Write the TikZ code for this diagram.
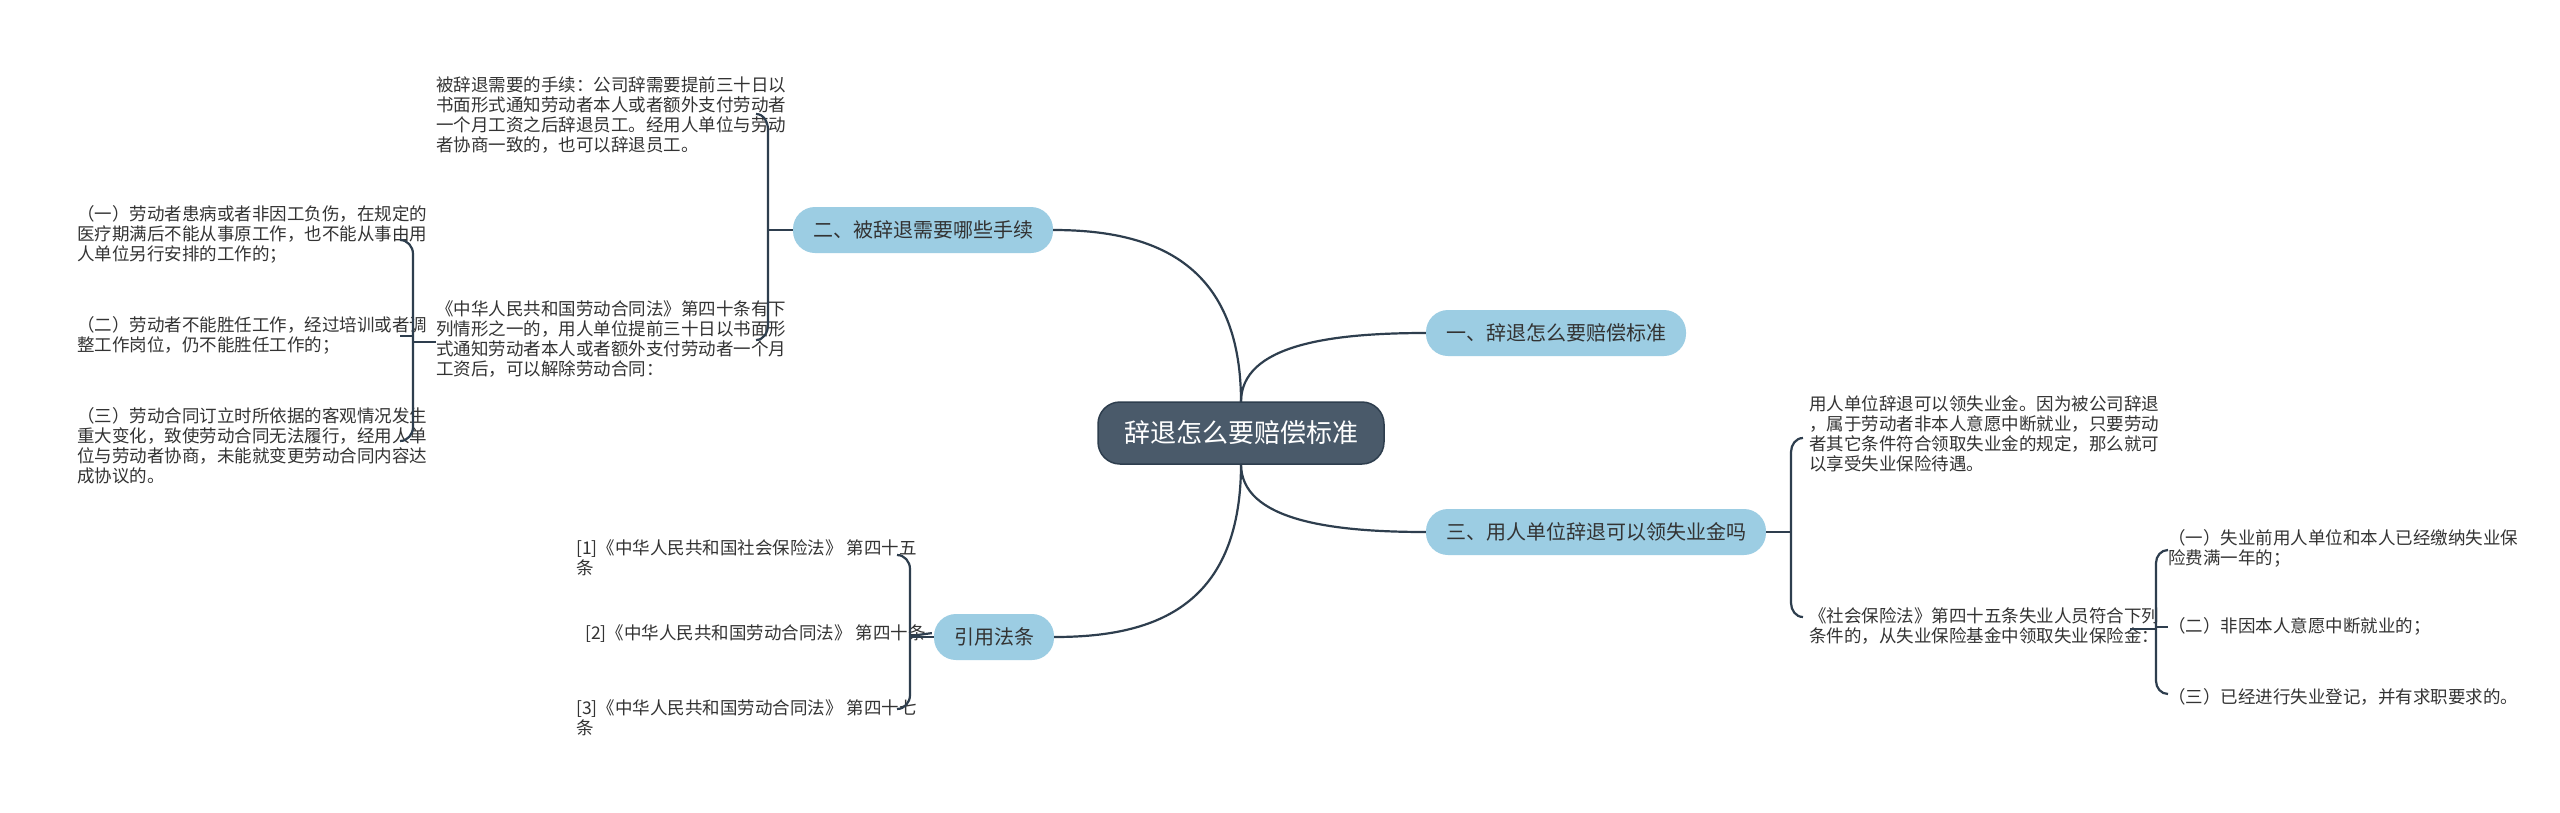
\documentclass[tikz,border=0pt]{standalone}
\usepackage{fontspec}
\setmainfont{Noto Sans CJK SC}
\definecolor{lnc}{HTML}{2E3E4E}
\definecolor{ctrf}{HTML}{4A5A6A}
\definecolor{brf}{HTML}{9CCDE3}
\definecolor{txc}{HTML}{333333}
\tikzset{
 ctr/.style={draw=lnc,line width=1.5pt,fill=ctrf,rounded corners=22pt,text=white,font=\fontsize{26}{30}\selectfont,minimum height=62pt,inner xsep=26pt},
 br/.style={fill=brf,rounded corners=22pt,text=txc,font=\fontsize{20}{24}\selectfont,minimum height=46pt,inner xsep=20pt},
 leaf/.style={text=txc,font=\fontsize{17.5}{20}\selectfont,align=left,inner sep=0pt},
 ln/.style={draw=lnc,line width=2.2pt},
}
\begin{document}
\begin{tikzpicture}[x=1pt,y=-1pt]
\useasboundingbox (0,0) rectangle (2560,812);
\fill[white] (0,0) rectangle (2560,812);
\node[ctr] (c) at (1241,433) {辞退怎么要赔偿标准};
\node[br] (b2) at (923,230) {二、被辞退需要哪些手续};
\node[br] (b1) at (1556,333) {一、辞退怎么要赔偿标准};
\node[br] (b3) at (1596,532) {三、用人单位辞退可以领失业金吗};
\node[br] (b4) at (994,637) {引用法条};
\coordinate (ct) at (1241,402);
\coordinate (cb) at (1241,464);
\draw[ln] (ct) .. controls (1241,260) and (1150,230) .. (b2.east);
\draw[ln] (ct) .. controls (1241,345) and (1330,333) .. (b1.west);
\draw[ln] (cb) .. controls (1241,520) and (1330,532) .. (b3.west);
\draw[ln] (cb) .. controls (1241,610) and (1150,637) .. (b4.east);

% branch 2 leaves
\node[leaf,anchor=north west] (l21) at (436,77) {被辞退需要的手续：公司辞需要提前三十日以\\书面形式通知劳动者本人或者额外支付劳动者\\一个月工资之后辞退员工。经用人单位与劳动\\者协商一致的，也可以辞退员工。};
\node[leaf,anchor=north west] (l22) at (436,300) {《中华人民共和国劳动合同法》第四十条有下\\列情形之一的，用人单位提前三十日以书面形\\式通知劳动者本人或者额外支付劳动者一个月\\工资后，可以解除劳动合同：};
\draw[ln] (b2.west) -- (768,230);
\draw[ln] (756,114) to[out=0,in=90] (768,130) -- (768,325) to[out=-90,in=0] (756,340);
\node[leaf,anchor=north west] (i1) at (77,205) {（一）劳动者患病或者非因工负伤，在规定的\\医疗期满后不能从事原工作，也不能从事由用\\人单位另行安排的工作的；};
\node[leaf,anchor=north west] (i2) at (77,316) {（二）劳动者不能胜任工作，经过培训或者调\\整工作岗位，仍不能胜任工作的；};
\node[leaf,anchor=north west] (i3) at (77,407) {（三）劳动合同订立时所依据的客观情况发生\\重大变化，致使劳动合同无法履行，经用人单\\位与劳动者协商，未能就变更劳动合同内容达\\成协议的。};
\coordinate (j22) at (436,342);
\draw[ln] (j22) -- (413,342);
\draw[ln] (400,240) to[out=0,in=90] (413,254) -- (413,427) to[out=-90,in=0] (400,441);
\draw[ln] (400,336) -- (413,336);

% branch 3 leaves
\node[leaf,anchor=north west] (l31) at (1809,395) {用人单位辞退可以领失业金。因为被公司辞退\\，属于劳动者非本人意愿中断就业，只要劳动\\者其它条件符合领取失业金的规定，那么就可\\以享受失业保险待遇。};
\node[leaf,anchor=north west] (l32) at (1809,607) {《社会保险法》第四十五条失业人员符合下列\\条件的，从失业保险基金中领取失业保险金：};
\draw[ln] (b3.east) -- (1791,532);
\draw[ln] (1803,438) to[out=180,in=90] (1791,452) -- (1791,603) to[out=-90,in=180] (1803,617);
\node[leaf,anchor=north west] (k1) at (2168,529) {（一）失业前用人单位和本人已经缴纳失业保\\险费满一年的；};
\node[leaf,anchor=north west] (k2) at (2168,617) {（二）非因本人意愿中断就业的；};
\node[leaf,anchor=north west] (k3) at (2168,688) {（三）已经进行失业登记，并有求职要求的。};
\draw[ln] (2130,629) -- (2156,629);
\draw[ln] (2168,550) to[out=180,in=90] (2156,563) -- (2156,681) to[out=-90,in=180] (2168,694);
\draw[ln] (2156,627) -- (2168,627);

% citations
\node[leaf,anchor=north west] (r1) at (576,539) {[1]《中华人民共和国社会保险法》 第四十五\\条};
\node[leaf,anchor=north west] (r2) at (585,624) {[2]《中华人民共和国劳动合同法》 第四十条};
\node[leaf,anchor=north west] (r3) at (576,699) {[3]《中华人民共和国劳动合同法》 第四十七\\条};
\draw[ln] (b4.west) -- (910,637);
\draw[ln] (897,555) to[out=0,in=90] (910,569) -- (910,695) to[out=-90,in=0] (897,709);
\draw[ln] (r2.east) ++(6,0) -- (910,636);
\end{tikzpicture}
\end{document}
